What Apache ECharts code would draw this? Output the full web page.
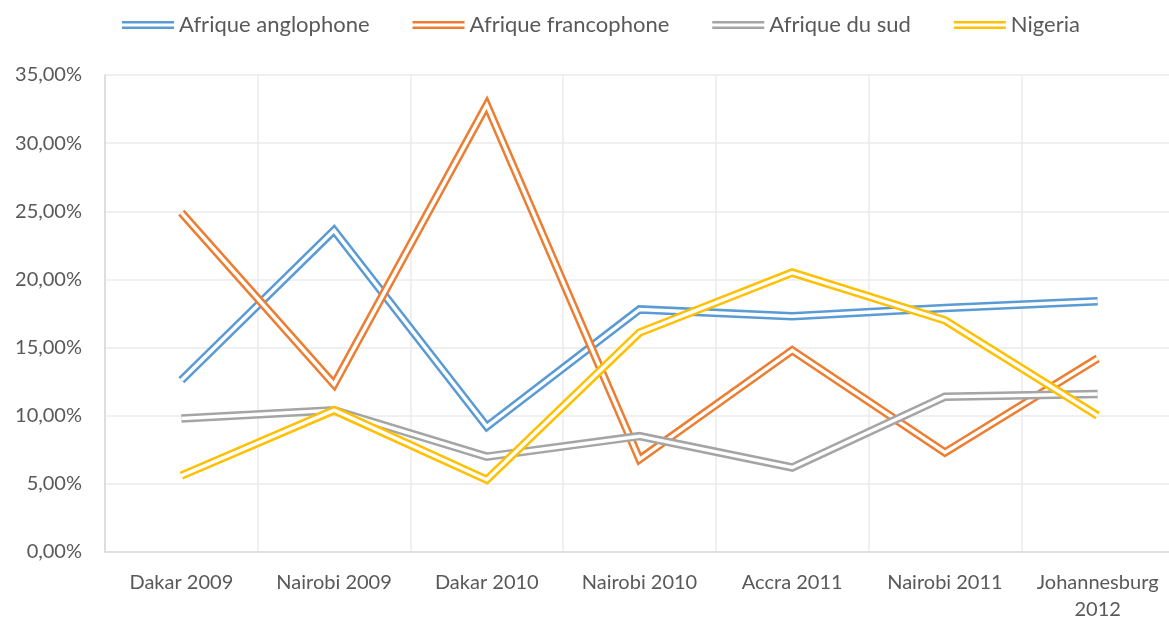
<!DOCTYPE html>
<html>
<head>
<meta charset="utf-8">
<script src="https://cdn.jsdelivr.net/npm/echarts@6/dist/echarts.min.js"></script>
<style>
  html, body { margin: 0; padding: 0; background: #fff; }
  #chart { width: 1169px; height: 620px; }
</style>
</head>
<body>
<div id="chart"></div>
<script>
var categories = ['Dakar 2009', 'Nairobi 2009', 'Dakar 2010', 'Nairobi 2010', 'Accra 2011', 'Nairobi 2011', 'Johannesburg 2012'];
var anglophone = [12.6, 23.6, 9.2, 17.8, 17.3, 17.9, 18.4];
var francophone = [24.9, 12.3, 32.8, 6.8, 14.8, 7.3, 14.2];
var sud = [9.8, 10.4, 7.0, 8.5, 6.2, 11.4, 11.6];
var nigeria = [5.6, 10.4, 5.3, 16.1, 20.5, 17.0, 10.0];
var yTicks = [0, 5, 10, 15, 20, 25, 30, 35];

var names = ['Afrique anglophone', 'Afrique francophone', 'Afrique du sud', 'Nigeria'];
var colors = ['#5B9BD5', '#ED7D31', '#A5A5A5', '#FFC000'];
var values = [anglophone, francophone, sud, nigeria];

var chartDom = document.getElementById('chart');
var myChart = echarts.init(chartDom);
var option;

// each series is drawn twice: a thick coloured line and a thin white one on top,
// which gives the "double" line look of the original
var series = [];
for (let i = 0; i < names.length; i++) {
	series.push({
		name: names[i],
		type: 'line',
		data: values[i],
		showSymbol: false,
		symbol: 'none',
		silent: true,
		itemStyle: { color: colors[i] },
		lineStyle: { color: colors[i], width: 8.5, join: 'miter', miterLimit: 10 }
	});
	series.push({
		name: names[i] + ' ',
		type: 'line',
		data: values[i],
		showSymbol: false,
		symbol: 'none',
		silent: true,
		itemStyle: { color: '#ffffff' },
		lineStyle: { color: '#ffffff', width: 3.5, join: 'miter', miterLimit: 10 }
	});
}

option = {
	animation: false,
	textStyle: { fontFamily: 'Lato' },
	legend: {
		data: names,
		top: 9,
		left: 117,
		itemWidth: 52,
		itemHeight: 8,
		itemGap: 43,
		icon: 'path://M0,0H52V2.6H0Z M0,5.4H52V8H0Z',
		textStyle: { color: '#595959', fontSize: 22, fontFamily: 'Lato' }
	},
	grid: {
		left: 105,
		right: -5,
		top: 75,
		bottom: 68,
		outerBoundsMode: 'none'
	},
	xAxis: {
		type: 'category',
		data: categories,
		boundaryGap: true,
		axisLine: { lineStyle: { color: '#d9d9d9', width: 1.5 } },
		axisTick: { show: false },
		splitLine: { show: true, interval: 0, lineStyle: { color: '#ebebeb', width: 1.5 } },
		axisLabel: {
			interval: 0,
			margin: 17,
			color: '#595959',
			fontSize: 20,
			lineHeight: 27,
			fontFamily: 'Lato',
			formatter: function (v) { return v.replace('Johannesburg ', 'Johannesburg\n'); }
		}
	},
	yAxis: {
		type: 'value',
		min: yTicks[0],
		max: yTicks[yTicks.length - 1],
		interval: 5,
		axisLine: { show: true, lineStyle: { color: '#d9d9d9', width: 1.5 } },
		axisTick: { show: false },
		splitLine: { lineStyle: { color: '#ebebeb', width: 1.5 } },
		axisLabel: {
			margin: 23,
			color: '#595959',
			fontSize: 20,
			fontFamily: 'Lato',
			formatter: function (v) { return v.toFixed(2).replace('.', ',') + '%'; }
		}
	},
	series: series
};

option && myChart.setOption(option);
</script>
</body>
</html>
